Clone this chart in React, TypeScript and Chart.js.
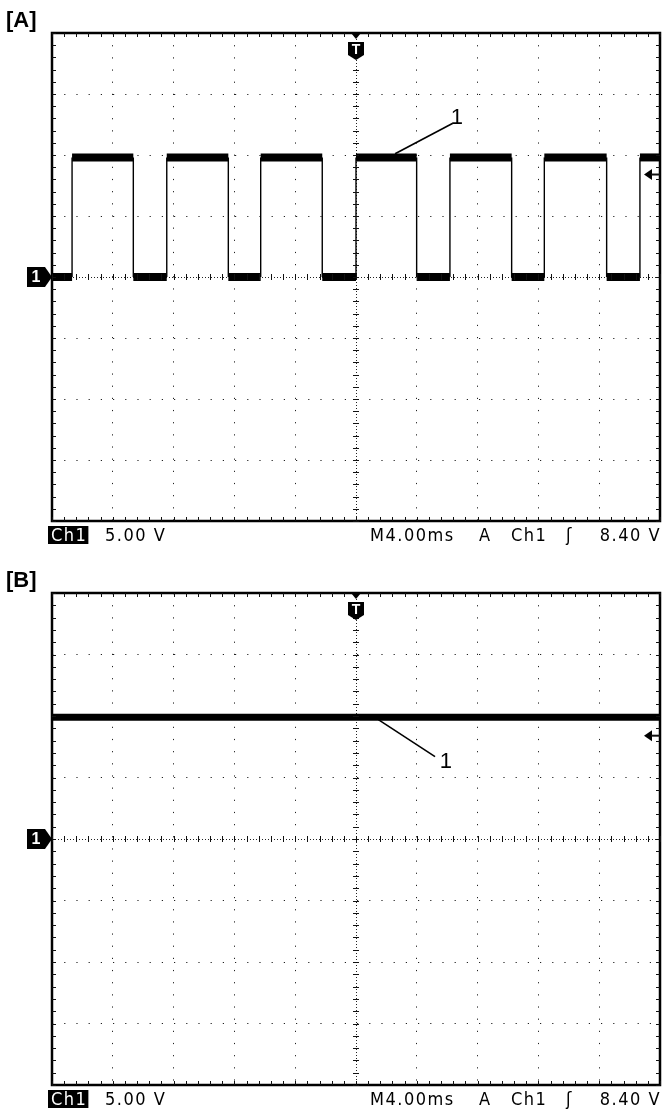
import React, { useEffect, useRef } from "react";
import { Chart, registerables } from "chart.js";
Chart.register(...registerables);

// ---- scope settings (10 div x 4 ms, 8 div x 5 V, trigger at centre) ----
const TIME_MIN_MS = -20;
const TIME_MAX_MS = 20;
const TIME_STEP_MS = 4;
const VOLT_MIN = -20;
const VOLT_MAX = 20;
const VOLT_STEP = 5;
const TRIGGER_LEVEL_V = 8.4;

// ---- panel labels / readouts ----
const PANEL_LABELS = ["[A]", "[B]"];
const READOUT_CHANNEL = "Ch1";
const READOUT_SCALE = "5.00 V";
const READOUT_TIMEBASE = "M4.00ms";
const READOUT_MODE = "A";
const READOUT_SOURCE = "Ch1";
const READOUT_SLOPE = "ʃ";
const READOUT_LEVEL = "8.40 V";
const TRACE_LABEL = "1";

// ---- panel A: square wave (edge times in ms, levels in V) ----
const A_RISING_EDGES_MS = [-18.68, -12.45, -6.27, 0, 6.18, 12.39, 18.68];
const A_FALLING_EDGES_MS = [-14.65, -8.4, -2.22, 3.99, 10.24, 16.49];
const A_HIGH_V = 9.8;
const A_LOW_V = 0;
const A_START_V = 0;
const A_LEADER_FROM = { x: 2.57, y: 10.1 };
const A_LEADER_TO = { x: 6.37, y: 12.6 };
const A_LABEL_AT = { x: 6.64, y: 13.0 };

// ---- panel B: flat DC level ----
const B_TIME_MS = [-20, 20];
const B_LEVEL_V = [9.9, 9.9];
const B_LEADER_FROM = { x: 1.47, y: 9.7 };
const B_LEADER_TO = { x: 5.2, y: 6.7 };
const B_LABEL_AT = { x: 5.91, y: 6.3 };

function buildSquareWave(rising: number[], falling: number[], high: number, low: number, start: number) {
  const edges = [
    ...rising.map((t) => ({ t, to: high })),
    ...falling.map((t) => ({ t, to: low })),
  ].sort((a, b) => a.t - b.t);
  const pts: { x: number; y: number }[] = [{ x: TIME_MIN_MS, y: start }];
  let level = start;
  for (const e of edges) {
    pts.push({ x: e.t, y: level });
    pts.push({ x: e.t, y: e.to });
    level = e.to;
  }
  pts.push({ x: TIME_MAX_MS, y: level });
  return pts;
}

const MONO = '"DejaVu Sans Condensed", "DejaVu Sans", sans-serif';
const SANS = '"Liberation Sans", Arial, sans-serif';

function scopePlugin(panel: {
  label: string;
  leaderFrom: { x: number; y: number };
  leaderTo: { x: number; y: number };
  labelAt: { x: number; y: number };
}) {
  return {
    id: "scope",
    afterDraw(chart: any) {
      const { ctx, chartArea: ca } = chart;
      const xs = chart.scales.x;
      const ys = chart.scales.y;
      ctx.save();
      // frame
      ctx.strokeStyle = "#000";
      ctx.lineWidth = 2.5;
      ctx.strokeRect(ca.left, ca.top, ca.right - ca.left, ca.bottom - ca.top);
      // minor ticks on frame + centre lines
      ctx.lineWidth = 1;
      ctx.strokeStyle = "#111";
      const cx = xs.getPixelForValue(0);
      const cy = ys.getPixelForValue(0);
      for (let t = TIME_MIN_MS; t <= TIME_MAX_MS + 1e-6; t += TIME_STEP_MS / 5) {
        const px = Math.round(xs.getPixelForValue(t)) + 0.5;
        ctx.beginPath();
        ctx.moveTo(px, ca.top);
        ctx.lineTo(px, ca.top + 4);
        ctx.moveTo(px, ca.bottom);
        ctx.lineTo(px, ca.bottom - 4);
        ctx.moveTo(px, cy - 3);
        ctx.lineTo(px, cy + 3);
        ctx.stroke();
      }
      for (let v = VOLT_MIN; v <= VOLT_MAX + 1e-6; v += VOLT_STEP / 5) {
        const py = Math.round(ys.getPixelForValue(v)) + 0.5;
        ctx.beginPath();
        ctx.moveTo(ca.left, py);
        ctx.lineTo(ca.left + 4, py);
        ctx.moveTo(ca.right, py);
        ctx.lineTo(ca.right - 4, py);
        ctx.moveTo(cx - 3, py);
        ctx.lineTo(cx + 3, py);
        ctx.stroke();
      }

      // ground marker "1"
      ctx.fillStyle = "#000";
      ctx.beginPath();
      ctx.moveTo(ca.left - 25, cy - 10);
      ctx.lineTo(ca.left - 7, cy - 10);
      ctx.lineTo(ca.left, cy);
      ctx.lineTo(ca.left - 7, cy + 10);
      ctx.lineTo(ca.left - 25, cy + 10);
      ctx.closePath();
      ctx.fill();
      ctx.fillStyle = "#fff";
      ctx.font = `bold 16px ${SANS}`;
      ctx.textAlign = "center";
      ctx.textBaseline = "middle";
      ctx.fillText("1", ca.left - 16, cy + 1);

      // trigger position marker "T"
      ctx.fillStyle = "#000";
      ctx.beginPath();
      ctx.moveTo(cx - 5, ca.top);
      ctx.lineTo(cx + 5, ca.top);
      ctx.lineTo(cx, ca.top + 6);
      ctx.closePath();
      ctx.fill();
      ctx.beginPath();
      ctx.moveTo(cx - 8, ca.top + 9);
      ctx.lineTo(cx + 8, ca.top + 9);
      ctx.lineTo(cx + 8, ca.top + 22);
      ctx.lineTo(cx, ca.top + 27);
      ctx.lineTo(cx - 8, ca.top + 22);
      ctx.closePath();
      ctx.fill();
      ctx.fillStyle = "#fff";
      ctx.font = `bold 14px ${SANS}`;
      ctx.fillText("T", cx, ca.top + 17);

      // trigger level arrow
      const ty = ys.getPixelForValue(TRIGGER_LEVEL_V);
      ctx.fillStyle = "#000";
      ctx.beginPath();
      ctx.moveTo(ca.right - 16, ty);
      ctx.lineTo(ca.right - 8, ty - 5.5);
      ctx.lineTo(ca.right - 8, ty + 5.5);
      ctx.closePath();
      ctx.fill();
      ctx.lineWidth = 2;
      ctx.beginPath();
      ctx.moveTo(ca.right - 9, ty);
      ctx.lineTo(ca.right, ty);
      ctx.stroke();

      // leader + trace label
      ctx.lineWidth = 1.6;
      ctx.strokeStyle = "#000";
      ctx.beginPath();
      ctx.moveTo(xs.getPixelForValue(panel.leaderFrom.x), ys.getPixelForValue(panel.leaderFrom.y));
      ctx.lineTo(xs.getPixelForValue(panel.leaderTo.x), ys.getPixelForValue(panel.leaderTo.y));
      ctx.stroke();
      ctx.fillStyle = "#000";
      ctx.font = `22px ${SANS}`;
      ctx.textAlign = "center";
      ctx.textBaseline = "middle";
      ctx.fillText(TRACE_LABEL, xs.getPixelForValue(panel.labelAt.x), ys.getPixelForValue(panel.labelAt.y));

      // panel label
      ctx.font = `bold 22px ${SANS}`;
      ctx.textAlign = "left";
      ctx.textBaseline = "alphabetic";
      ctx.fillText(panel.label, 6, ca.top - 6);

      // readout line
      const base = ca.bottom + 20;
      ctx.font = `18px ${MONO}`;
      (ctx as any).letterSpacing = "1.5px";
      ctx.textAlign = "left";
      const chW = ctx.measureText(READOUT_CHANNEL).width;
      ctx.fillStyle = "#000";
      ctx.fillRect(ca.left - 4, base - 15, chW + 4, 18);
      ctx.fillStyle = "#fff";
      ctx.fillText(READOUT_CHANNEL, ca.left - 1, base);
      ctx.fillStyle = "#000";
      ctx.fillText(READOUT_SCALE, ca.left + 53, base);
      ctx.fillText(READOUT_TIMEBASE, ca.left + 318, base);
      ctx.fillText(READOUT_MODE, ca.left + 427, base);
      ctx.fillText(READOUT_SOURCE, ca.left + 459, base);
      ctx.fillText(READOUT_SLOPE, ca.left + 514, base);
      ctx.textAlign = "right";
      ctx.fillText(READOUT_LEVEL, ca.right + 1, base);
      (ctx as any).letterSpacing = "0px";
      ctx.restore();
    },
  };
}

function scales() {
  const edge = (c: any, min: number, max: number) =>
    c.tick && (Math.abs(c.tick.value - min) < 1e-6 || Math.abs(c.tick.value - max) < 1e-6)
      ? "rgba(0,0,0,0)"
      : "#222";
  return {
    x: {
      type: "linear" as const,
      min: TIME_MIN_MS,
      max: TIME_MAX_MS,
      ticks: { display: false, stepSize: TIME_STEP_MS },
      grid: { drawTicks: false, color: (c: any) => edge(c, TIME_MIN_MS, TIME_MAX_MS), lineWidth: 1 },
      border: {
        display: false,
        dash: (c: any) => (c.tick && Math.abs(c.tick.value) < 1e-6 ? [1, 2] : [1.2, 10.96]),
      },
    },
    y: {
      type: "linear" as const,
      min: VOLT_MIN,
      max: VOLT_MAX,
      ticks: { display: false, stepSize: VOLT_STEP },
      grid: { drawTicks: false, color: (c: any) => edge(c, VOLT_MIN, VOLT_MAX), lineWidth: 1 },
      border: {
        display: false,
        dash: (c: any) => (c.tick && Math.abs(c.tick.value) < 1e-6 ? [1, 2] : [1.2, 11.0]),
      },
    },
  };
}

function Panel(props: {
  top: number;
  height: number;
  pad: { left: number; right: number; top: number; bottom: number };
  data: { x: number; y: number }[];
  plateauWidth: number;
  plugin: any;
}) {
  const ref = useRef<HTMLCanvasElement>(null);
  useEffect(() => {
    const chart = new Chart(ref.current!, {
      type: "line",
      data: {
        datasets: [
          {
            data: props.data,
            borderColor: "#000",
            borderWidth: props.plateauWidth,
            pointRadius: 0,
            tension: 0,
            borderCapStyle: "butt",
            segment: {
              borderWidth: (c: any) => (c.p0.parsed.x === c.p1.parsed.x ? 1.4 : props.plateauWidth),
            },
          },
        ],
      },
      options: {
        responsive: false,
        animation: false,
        parsing: false as any,
        layout: { padding: props.pad },
        plugins: { legend: { display: false }, tooltip: { enabled: false } },
        scales: scales() as any,
      },
      plugins: [props.plugin],
    });
    return () => chart.destroy();
  }, []);
  return (
    <canvas
      ref={ref}
      width={670}
      height={props.height}
      style={{ position: "absolute", left: 0, top: props.top, width: 670, height: props.height }}
    />
  );
}

export default function App() {
  const dataA = buildSquareWave(A_RISING_EDGES_MS, A_FALLING_EDGES_MS, A_HIGH_V, A_LOW_V, A_START_V);
  const dataB = B_TIME_MS.map((t, i) => ({ x: t, y: B_LEVEL_V[i] }));
  return (
    <div style={{ position: "absolute", left: 0, top: 0, width: 670, height: 1116, background: "#fff", overflow: "hidden" }}>
      <Panel
        top={0}
        height={560}
        pad={{ left: 52, right: 10, top: 33, bottom: 39 }}
        data={dataA}
        plateauWidth={8}
        plugin={scopePlugin({ label: PANEL_LABELS[0], leaderFrom: A_LEADER_FROM, leaderTo: A_LEADER_TO, labelAt: A_LABEL_AT })}
      />
      <Panel
        top={560}
        height={556}
        pad={{ left: 52, right: 10, top: 33, bottom: 31 }}
        data={dataB}
        plateauWidth={7}
        plugin={scopePlugin({ label: PANEL_LABELS[1], leaderFrom: B_LEADER_FROM, leaderTo: B_LEADER_TO, labelAt: B_LABEL_AT })}
      />
    </div>
  );
}
